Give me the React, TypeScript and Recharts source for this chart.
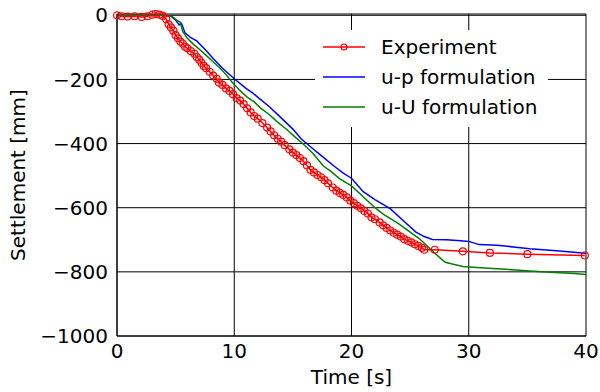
import { LineChart, Line, XAxis, YAxis, CartesianGrid, Legend } from "recharts";

// Experiment (red, hollow circles)
const expTime = [
  0, 0.4, 0.9, 1.5, 2.1, 2.6, 3.0, 3.3, 3.6, 3.9, 4.2, 4.4, 4.6, 4.8, 5.0, 5.2, 5.4, 5.6, 5.8, 6.0,
  6.3, 6.6, 6.8, 7.0, 7.2, 7.4, 7.6, 7.9, 8.2, 8.5, 8.7, 9.0, 9.3, 9.6, 9.9, 10.2, 10.5, 10.8, 11.1, 11.4,
  11.7, 12.0, 12.4, 12.8, 13.1, 13.4, 13.7, 14.0, 14.3, 14.7, 15.0, 15.3, 15.6, 15.9, 16.2, 16.5, 16.8, 17.1, 17.4, 17.7,
  18.0, 18.4, 18.7, 19.0, 19.3, 19.6, 19.9, 20.2, 20.5, 20.8, 21.1, 21.4, 21.7, 22.0, 22.4, 22.7, 23.0, 23.3, 23.6, 23.9,
  24.2, 24.5, 24.8, 25.1, 25.4, 25.7, 26.0, 26.2, 27.1, 29.5, 31.8, 35.0, 39.9,
];
const expSettle = [
  0, -3, -4, -3, -5, -3, 2, 4, 2, -2, -12, -28, -38, -48, -62, -72, -82, -88, -98, -103,
  -112, -120, -130, -138, -148, -158, -165, -176, -188, -198, -210, -217, -228, -236, -246, -258, -266, -277, -290, -303,
  -314, -322, -336, -350, -362, -374, -385, -394, -405, -418, -428, -436, -445, -455, -468, -482, -490, -498, -505, -514,
  -524, -537, -547, -554, -560, -568, -578, -586, -594, -602, -610, -618, -630, -636, -646, -655, -663, -671, -678, -684,
  -690, -698, -703, -708, -714, -719, -725, -731, -731, -736, -741, -745, -749,
];

// u-p formulation (blue)
const upTime = [
  0, 4.0, 4.6, 5.0, 5.3, 5.5, 5.8, 6.3, 6.8, 7.2, 7.6, 8.2, 9.0, 10.0, 11.0, 11.5, 12.0, 13.0, 14.0, 15.0,
  15.7, 16.5, 17.5, 18.5, 19.3, 20.0, 21.0, 22.0, 23.3, 24.4, 25.5, 26.2, 26.9, 28.1, 29.3, 30.0, 30.9, 32.4, 34.0, 35.2,
  37.5, 39.7, 40.0,
];
const upSettle = [
  0, 0, -3, -15, -30, -25, -55, -70, -80, -95, -110, -135, -165, -198, -228, -240, -255, -285, -320, -355,
  -385, -410, -440, -470, -492, -508, -550, -575, -603, -640, -676, -690, -699, -700, -703, -705, -715, -717, -723, -728,
  -734, -741, -742,
];

// u-U formulation (green)
const uuTime = [
  0, 4.0, 4.7, 5.1, 5.4, 5.6, 6.0, 6.5, 7.0, 7.6, 8.2, 8.8, 9.3, 9.8, 10.5, 11.1, 11.7, 12.2, 13.0, 13.6,
  14.5, 15.2, 15.9, 16.7, 17.6, 18.2, 19.0, 20.0, 21.0, 22.0, 22.7, 23.5, 24.1, 25.0, 25.8, 26.7, 27.5, 28.0, 28.5, 29.5,
  31.0, 32.4, 34.0, 35.2, 37.0, 39.0, 40.0,
];
const uuSettle = [
  0, 0, -4, -15, -22, -50, -72, -90, -105, -125, -145, -165, -185, -208, -235, -255, -270, -288, -310, -330,
  -357, -380, -402, -430, -470, -485, -510, -532, -566, -600, -620, -638, -652, -676, -697, -728, -755, -770, -775, -783,
  -787, -790, -794, -797, -801, -805, -808,
];

const xTicks = [0, 10, 20, 30, 40];
const yTicks = [-1000, -800, -600, -400, -200, 0];

const toRows = (ts: number[], vs: number[]) => ts.map((t, i) => ({ t, v: vs[i] }));
const experiment = toRows(expTime, expSettle);
const upForm = toRows(upTime, upSettle);
const uuForm = toRows(uuTime, uuSettle);

const FONT = "'DejaVu Sans', sans-serif";
const fmtY = (v: number) => (v < 0 ? "\u2212" + Math.abs(v) : String(v));

const legendItems = [
  { name: "Experiment", color: "#ff0000", marker: true },
  { name: "u-p formulation", color: "#0000ff", marker: false },
  { name: "u-U formulation", color: "#008000", marker: false },
];

function LegendBox() {
  return (
    <div style={{ background: "#fff", width: 233, height: 97, fontFamily: FONT, fontSize: 20, color: "#000" }}>
      {legendItems.map((it, i) => (
        <div key={it.name} style={{ position: "absolute", left: 0, top: 2 + i * 30, height: 30, display: "flex", alignItems: "center" }}>
          <svg width={60} height={30} style={{ marginLeft: 8 }}>
            <line x1={0} x2={42} y1={15} y2={15} stroke={it.color} strokeWidth={1.5} />
            {it.marker && <circle cx={21} cy={15} r={3} fill="none" stroke={it.color} strokeWidth={1.2} />}
          </svg>
          <span style={{ marginLeft: -2, whiteSpace: "nowrap" }}>{it.name}</span>
        </div>
      ))}
    </div>
  );
}

function YTitle(props: any) {
  const vb = props.viewBox || { x: 17, y: 14, width: 100, height: 322 };
  const x = vb.x + 1;
  const y = vb.y + vb.height / 2;
  return (
    <text x={x} y={y} transform={`rotate(-90, ${x}, ${y})`} textAnchor="middle" dominantBaseline="central" fontSize={20} fontFamily={FONT} fill="#000">
      Settlement [mm]
    </text>
  );
}

function XTitle(props: any) {
  const vb = props.viewBox || { x: 117, y: 336, width: 469, height: 56 };
  return (
    <text x={vb.x + vb.width / 2} y={vb.y + 48} textAnchor="middle" fontSize={20} fontFamily={FONT} fill="#000">
      Time [s]
    </text>
  );
}

export default function App() {
  return (
    <div style={{ position: "absolute", left: 0, top: 0, width: 600, height: 392, background: "#fff", fontFamily: FONT }}>
      <LineChart width={600} height={392} margin={{ top: 14, right: 14, bottom: 0, left: 17 }}>
        <CartesianGrid stroke="#000" strokeWidth={1} />
        <XAxis
          type="number"
          dataKey="t"
          domain={[0, 40]}
          ticks={xTicks}
          height={56}
          tickSize={0}
          tickMargin={8}
          axisLine={{ stroke: "#000" }}
          tick={{ fontSize: 20, fill: "#000", fontFamily: FONT }}
          label={<XTitle />}
        />
        <YAxis
          type="number"
          dataKey="v"
          domain={[-1000, 0]}
          ticks={yTicks}
          width={100}
          tickSize={0}
          tickMargin={9}
          tickFormatter={fmtY}
          axisLine={{ stroke: "#000" }}
          tick={{ fontSize: 20, fill: "#000", fontFamily: FONT }}
          label={<YTitle />}
        />
        <Legend
          layout="vertical"
          align="center"
          verticalAlign="middle"
          content={() => <LegendBox />}
          wrapperStyle={{ position: "absolute", left: 315, top: 30, width: 233, height: 97 }}
        />
        <Line
          data={experiment}
          dataKey="v"
          name="Experiment"
          stroke="#ff0000"
          strokeWidth={1.5}
          dot={{ r: 3.5, stroke: "#ff0000", strokeWidth: 1.2, fill: "none" }}
          isAnimationActive={false}
        />
        <Line data={upForm} dataKey="v" name="u-p formulation" stroke="#0000ff" strokeWidth={1.5} dot={false} isAnimationActive={false} />
        <Line data={uuForm} dataKey="v" name="u-U formulation" stroke="#008000" strokeWidth={1.5} dot={false} isAnimationActive={false} />
      </LineChart>
    </div>
  );
}
